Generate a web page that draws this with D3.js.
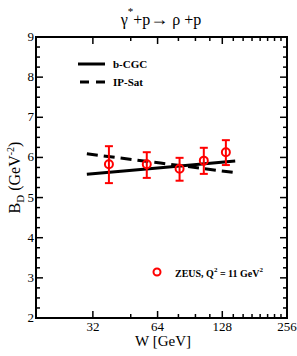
<!DOCTYPE html>
<html>
<head>
<meta charset="utf-8">
<script src="https://cdn.jsdelivr.net/npm/d3@7"></script>
<style>
  body { margin: 0; background: #fff; }
  svg { display: block; font-family: "Liberation Serif", "DejaVu Serif", serif; }
</style>
</head>
<body>
<div id="chart"></div>
<script>
// ZEUS data, Q^2 = 11 GeV^2
const zeusW = [38, 57, 81, 105, 133];
const zeusB = [5.83, 5.83, 5.72, 5.92, 6.13];
const zeusLo = [5.36, 5.49, 5.42, 5.59, 5.81];
const zeusHi = [6.28, 6.13, 5.99, 6.24, 6.43];

// model curves
const cgcW = [30, 66, 147];
const cgcB = [5.58, 5.74, 5.91];
const ipsatW = [30, 66, 147];
const ipsatB = [6.09, 5.86, 5.62];

const xTicks = [32, 64, 128, 256];
const xMinor = [48, 80, 96, 112, 144, 160, 176, 192, 208, 224, 240];
const yTicks = [2, 3, 4, 5, 6, 7, 8, 9];

const width = 297, height = 356;
const margin = {left: 36, right: 10, top: 37, bottom: 38};

let svg = d3.select('#chart').append('svg')
    .attr('width', width)
    .attr('height', height);

let x = d3.scaleLog().base(2)
    .domain([17.4, 256])
    .range([margin.left, width - margin.right]);

let y = d3.scaleLinear()
    .domain([2, 9])
    .range([height - margin.bottom, margin.top]);

let x0 = margin.left, x1 = width - margin.right;
let y0 = height - margin.bottom, y1 = margin.top;

// ticks, pointing inward on all four sides
let yMinor = d3.range(2, 9.001, 0.25).filter(function(v) {return Math.abs(v - Math.round(v)) > 0.01});

function axisLines(g, vals, len, scale, horizontal) {
    vals.forEach(function(v) {
        let p = scale(v);
        if (horizontal) {
            g.append('line').attr('x1', p).attr('x2', p).attr('y1', y0).attr('y2', y0 - len);
            g.append('line').attr('x1', p).attr('x2', p).attr('y1', y1).attr('y2', y1 + len);
        } else {
            g.append('line').attr('y1', p).attr('y2', p).attr('x1', x0).attr('x2', x0 + len);
            g.append('line').attr('y1', p).attr('y2', p).attr('x1', x1).attr('x2', x1 - len);
        }
    });
}

let tickG = svg.append('g').attr('stroke', '#000').attr('stroke-width', 1.5);
axisLines(tickG, xTicks, 7, x, true);
axisLines(tickG, xMinor, 4, x, true);
axisLines(tickG, yTicks, 7, y, false);
axisLines(tickG, yMinor, 4, y, false);

svg.append('rect')
    .attr('x', x0).attr('y', y1)
    .attr('width', x1 - x0).attr('height', y0 - y1)
    .attr('fill', 'none').attr('stroke', '#000').attr('stroke-width', 2);

// tick labels
svg.selectAll('.xlab')
    .data(xTicks)
    .enter()
    .append('text')
    .attr('x', function(d) {return x(d)})
    .attr('y', y0 + 13)
    .attr('text-anchor', 'middle')
    .attr('font-size', 13)
    .text(function(d) {return d});

svg.selectAll('.ylab')
    .data(yTicks)
    .enter()
    .append('text')
    .attr('x', x0 - 2)
    .attr('y', function(d) {return y(d) + 4})
    .attr('text-anchor', 'end')
    .attr('font-size', 13)
    .text(function(d) {return d});

// axis titles
svg.append('text')
    .attr('x', 163).attr('y', 346)
    .attr('text-anchor', 'middle')
    .attr('font-size', 15)
    .text('W [GeV]');

let yt = svg.append('text')
    .attr('transform', 'translate(20,' + ((y0 + y1) / 2) + ') rotate(-90)')
    .attr('text-anchor', 'middle')
    .attr('font-size', 16);
yt.append('tspan').text('B');
yt.append('tspan').attr('font-size', 11).attr('dy', 4).text('D');
yt.append('tspan').attr('dy', -4).text(' (GeV');
yt.append('tspan').attr('font-size', 10).attr('dy', -6).text('-2');
yt.append('tspan').attr('dy', 6).text(')');

// title
let tt = svg.append('text')
    .attr('x', 161).attr('y', 25)
    .attr('text-anchor', 'middle')
    .attr('font-size', 16);
tt.append('tspan').text('γ');
tt.append('tspan').attr('font-size', 11).attr('dy', -10).text('*');
tt.append('tspan').attr('dy', 10).text('+p');
tt.append('tspan').attr('font-weight', 'bold').attr('font-size', 18).text('→');
tt.append('tspan').text(' ρ +p');

// model curves
let line = d3.line()
    .x(function(d) {return x(d[0])})
    .y(function(d) {return y(d[1])});

svg.append('path')
    .datum(d3.zip(cgcW, cgcB))
    .attr('d', line)
    .attr('fill', 'none').attr('stroke', '#000').attr('stroke-width', 3);

svg.append('path')
    .datum(d3.zip(ipsatW, ipsatB))
    .attr('d', line)
    .attr('fill', 'none').attr('stroke', '#000').attr('stroke-width', 3)
    .attr('stroke-dasharray', '11,6');

// ZEUS points with error bars
let pts = svg.selectAll('.pt')
    .data(d3.range(zeusW.length))
    .enter()
    .append('g')
    .attr('stroke', '#f00').attr('stroke-width', 2).attr('fill', 'none');

pts.append('line')
    .attr('x1', function(i) {return x(zeusW[i])})
    .attr('x2', function(i) {return x(zeusW[i])})
    .attr('y1', function(i) {return y(zeusLo[i])})
    .attr('y2', function(i) {return y(zeusHi[i])});
[zeusLo, zeusHi].forEach(function(arr) {
    pts.append('line')
        .attr('x1', function(i) {return x(zeusW[i]) - 4})
        .attr('x2', function(i) {return x(zeusW[i]) + 4})
        .attr('y1', function(i) {return y(arr[i])})
        .attr('y2', function(i) {return y(arr[i])});
});
pts.append('circle')
    .attr('cx', function(i) {return x(zeusW[i])})
    .attr('cy', function(i) {return y(zeusB[i])})
    .attr('r', 4);

// legends
svg.append('line')
    .attr('x1', 78).attr('x2', 105).attr('y1', 64).attr('y2', 64)
    .attr('stroke', '#000').attr('stroke-width', 3);
svg.append('line')
    .attr('x1', 80).attr('x2', 106).attr('y1', 82).attr('y2', 82)
    .attr('stroke', '#000').attr('stroke-width', 3)
    .attr('stroke-dasharray', '9,7');
svg.append('text').attr('x', 113).attr('y', 68)
    .attr('font-size', 11).attr('font-weight', 'bold').text('b-CGC');
svg.append('text').attr('x', 113).attr('y', 86)
    .attr('font-size', 11).attr('font-weight', 'bold').text('IP-Sat');

svg.append('circle')
    .attr('cx', 157).attr('cy', 272).attr('r', 3.5)
    .attr('fill', 'none').attr('stroke', '#f00').attr('stroke-width', 2);
let zt = svg.append('text').attr('x', 175).attr('y', 277)
    .attr('font-size', 10).attr('font-weight', 'bold');
zt.append('tspan').text('ZEUS, Q');
zt.append('tspan').attr('font-size', 7).attr('dy', -5).text('2');
zt.append('tspan').attr('dy', 5).text(' = 11 GeV');
zt.append('tspan').attr('font-size', 7).attr('dy', -5).text('2');
</script>
</body>
</html>
